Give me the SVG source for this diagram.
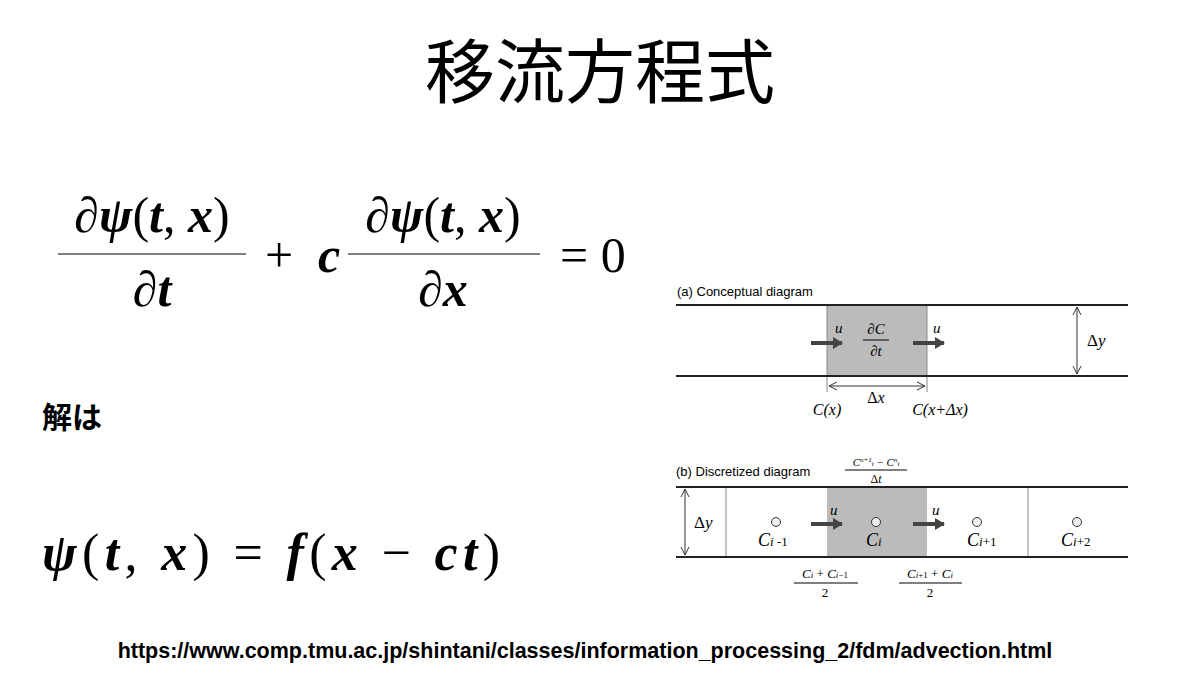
<svg xmlns="http://www.w3.org/2000/svg" width="1200" height="673" viewBox="0 0 1200 673">
<style>
.m{font-family:"Liberation Serif","DejaVu Serif",serif}
.i{font-style:italic}
.b{font-weight:bold}
.s{font-family:"Liberation Sans",Arial,sans-serif}
.ln{stroke:#222;stroke-width:2}
.th{stroke:#888;stroke-width:1}
.fr{stroke:#000;stroke-width:1.2}
</style>
<defs>
<marker id="open" markerWidth="10" markerHeight="10" refX="9" refY="5" orient="auto-start-reverse" markerUnits="userSpaceOnUse"><path d="M1,1 L9,5 L1,9" fill="none" stroke="#333" stroke-width="1"/></marker>
<marker id="fat" markerWidth="10" markerHeight="12" refX="9" refY="6" orient="auto" markerUnits="userSpaceOnUse"><path d="M0,0 L10,6 L0,12 Z" fill="#444"/></marker>
</defs>
<rect width="1200" height="673" fill="#fff"/>
<text x="600" y="98" text-anchor="middle" font-size="70" font-family="'Noto Sans CJK JP',sans-serif">移流方程式</text>

<g id="equation1" class="m" font-size="50">
<text x="152" y="232" text-anchor="middle"><tspan class="i b">∂ψ</tspan>(<tspan class="i b">t</tspan>, <tspan class="i b">x</tspan>)</text>
<line x1="58" y1="254" x2="246" y2="254" class="fr" stroke-width="3"/>
<text x="152" y="306" text-anchor="middle" class="i b">∂t</text>
<text x="265" y="272">+</text>
<text x="318" y="272" class="i b">c</text>
<text x="443" y="232" text-anchor="middle"><tspan class="i b">∂ψ</tspan>(<tspan class="i b">t</tspan>, <tspan class="i b">x</tspan>)</text>
<line x1="348" y1="254" x2="540" y2="254" class="fr" stroke-width="3"/>
<text x="443" y="306" text-anchor="middle" class="i b">∂x</text>
<text x="560" y="272">= 0</text>
</g>

<text x="42" y="428" font-size="30" font-weight="bold" font-family="'Noto Sans CJK JP',sans-serif">解は</text>

<g id="equation2" class="m" font-size="52">
<text x="42" y="570" textLength="458" lengthAdjust="spacing"><tspan class="i b">ψ</tspan>(<tspan class="i b">t</tspan>, <tspan class="i b">x</tspan>) = <tspan class="i b">f</tspan>(<tspan class="i b">x</tspan> − <tspan class="i b">ct</tspan>)</text>
</g>

<g id="diagram-a">
<text x="677" y="296" font-size="13" class="s">(a) Conceptual diagram</text>
<rect x="827" y="305" width="100" height="71" fill="#bbb"/>
<line x1="827" y1="305" x2="827" y2="392" class="th"/>
<line x1="927" y1="305" x2="927" y2="392" class="th"/>
<line x1="676" y1="305" x2="1128" y2="305" class="ln"/>
<line x1="676" y1="376" x2="1128" y2="376" class="ln"/>
<line x1="811" y1="343" x2="842" y2="343" stroke="#444" stroke-width="4" marker-end="url(#fat)"/>
<line x1="913" y1="343" x2="944" y2="343" stroke="#444" stroke-width="4" marker-end="url(#fat)"/>
<text x="835" y="333" font-size="15" class="m i">u</text>
<text x="933" y="333" font-size="15" class="m i">u</text>
<text x="876" y="334" font-size="15" class="m i" text-anchor="middle">∂C</text>
<line x1="863" y1="340" x2="889" y2="340" stroke="#000" stroke-width="1"/>
<text x="876" y="356" font-size="15" class="m i" text-anchor="middle">∂t</text>
<line x1="1077" y1="307" x2="1077" y2="374" stroke="#333" stroke-width="1" marker-start="url(#open)" marker-end="url(#open)"/>
<text x="1087" y="346" font-size="17" class="m"><tspan>Δ</tspan><tspan class="i">y</tspan></text>
<line x1="829" y1="386" x2="925" y2="386" stroke="#333" stroke-width="1" marker-start="url(#open)" marker-end="url(#open)"/>
<text x="876" y="403" font-size="16" class="m" text-anchor="middle">Δ<tspan class="i">x</tspan></text>
<text x="827" y="415" font-size="16" class="m i" text-anchor="middle">C(x)</text>
<text x="940" y="415" font-size="16" class="m i" text-anchor="middle">C(x+Δx)</text>
</g>

<g id="diagram-b">
<text x="676" y="476" font-size="13" class="s">(b) Discretized diagram</text>
<text x="876" y="466" font-size="11" class="m i" text-anchor="middle">C<tspan font-size="7" dy="-4">n+1</tspan><tspan font-size="7" dy="4">i</tspan> − C<tspan font-size="7" dy="-4">n</tspan><tspan font-size="7" dy="4">i</tspan></text>
<line x1="845" y1="470" x2="907" y2="470" stroke="#000" stroke-width="1"/>
<text x="876" y="483" font-size="12" class="m" text-anchor="middle">Δ<tspan class="i">t</tspan></text>
<rect x="827" y="487" width="100" height="70" fill="#bbb"/>
<line x1="726" y1="487" x2="726" y2="557" class="th"/>
<line x1="1028" y1="487" x2="1028" y2="557" class="th"/>
<line x1="676" y1="487" x2="1128" y2="487" class="ln"/>
<line x1="676" y1="557" x2="1128" y2="557" class="ln"/>
<line x1="685" y1="489" x2="685" y2="555" stroke="#333" stroke-width="1" marker-start="url(#open)" marker-end="url(#open)"/>
<text x="694" y="528" font-size="17" class="m">Δ<tspan class="i">y</tspan></text>
<line x1="811" y1="524" x2="842" y2="524" stroke="#444" stroke-width="4" marker-end="url(#fat)"/>
<line x1="913" y1="524" x2="944" y2="524" stroke="#444" stroke-width="4" marker-end="url(#fat)"/>
<text x="830" y="515" font-size="15" class="m i">u</text>
<text x="932" y="515" font-size="15" class="m i">u</text>
<g fill="#eee" stroke="#333" stroke-width="1">
<circle cx="776" cy="522" r="4.5"/><circle cx="876" cy="522" r="4.5"/><circle cx="977" cy="522" r="4.5"/><circle cx="1077" cy="522" r="4.5"/>
</g>
<g font-size="18" class="m">
<text x="758" y="546"><tspan class="i">C</tspan><tspan font-size="13"><tspan class="i">i</tspan> -1</tspan></text>
<text x="866" y="546"><tspan class="i">C</tspan><tspan font-size="13" class="i">i</tspan></text>
<text x="967" y="546"><tspan class="i">C</tspan><tspan font-size="13"><tspan class="i">i</tspan>+1</tspan></text>
<text x="1061" y="546"><tspan class="i">C</tspan><tspan font-size="13"><tspan class="i">i</tspan>+2</tspan></text>
</g>
<text x="825" y="578" font-size="13" class="m" text-anchor="middle"><tspan class="i">C</tspan><tspan font-size="9" class="i">i</tspan> + <tspan class="i">C</tspan><tspan font-size="9"><tspan class="i">i</tspan>−1</tspan></text>
<line x1="794" y1="583" x2="858" y2="583" stroke="#000" stroke-width="1"/>
<text x="825" y="597" font-size="13" class="m" text-anchor="middle">2</text>
<text x="930" y="578" font-size="13" class="m" text-anchor="middle"><tspan class="i">C</tspan><tspan font-size="9"><tspan class="i">i</tspan>+1</tspan> + <tspan class="i">C</tspan><tspan font-size="9" class="i">i</tspan></text>
<line x1="899" y1="583" x2="962" y2="583" stroke="#000" stroke-width="1"/>
<text x="930" y="597" font-size="13" class="m" text-anchor="middle">2</text>
</g>

<text x="585" y="658" text-anchor="middle" font-size="21.5" font-weight="bold" class="s">https://www.comp.tmu.ac.jp/shintani/classes/information_processing_2/fdm/advection.html</text>
</svg>
